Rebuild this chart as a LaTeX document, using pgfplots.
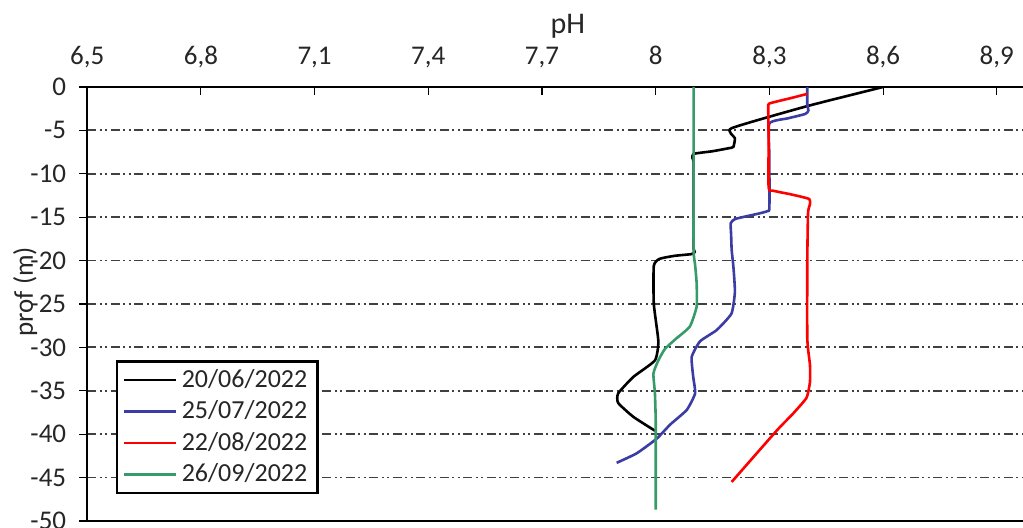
\documentclass[border=0pt]{standalone}
\usepackage{pgfplots}
\pgfplotsset{compat=1.18}
\usepackage{fontspec}
\setmainfont{Carlito}
\definecolor{cblue}{RGB}{60,60,165}
\definecolor{cred}{RGB}{255,0,0}
\definecolor{cgreen}{RGB}{55,155,105}
\newcommand{\tf}{\fontsize{13.5}{16}\selectfont}
\begin{document}
\begin{tikzpicture}
\begin{axis}[
  at={(0,0)}, anchor=south west,
  scale only axis, width=473.75pt, height=217pt,
  xmin=6.5, xmax=9.0, ymin=-50, ymax=0,
  xtick={6.5,6.8,7.1,7.4,7.7,8.0,8.3,8.6,8.9},
  ytick={-50,-45,...,0},
  xtick pos=right, xticklabel pos=right, ytick pos=left,
  tick align=outside,
  major tick length=4pt,
  tick style={black, line width=0.6pt},
  xtick style={yshift=-4pt},
  axis line style={black, line width=0.7pt},
  ymajorgrids,
  major grid style={black!75, line width=0.9pt, dash pattern=on 4.5pt off 1.75pt on 1pt off 1.75pt on 1pt off 1.75pt},
  /pgf/number format/assume math mode=true,
  xticklabel style={/pgf/number format/use comma, /pgf/number format/fixed, font=\tf, text=black!85, anchor=base, yshift=7.3pt},
  yticklabel style={font=\tf, text=black!85, xshift=-3pt},
  xlabel={pH},
  every axis x label/.style={at={(axis description cs:0.5074,1)}, anchor=base, yshift=26.5pt, font=\fontsize{15}{18}\selectfont, text=black!85},
  ylabel={prof (m)},
  every axis y label/.style={at={(axis description cs:-0.0655,0.528)}, anchor=center, rotate=90, font=\tf, text=black!85},
  legend style={at={(axis description cs:0.0304,0.0622)}, anchor=south west, draw=black, line width=1.2pt, font=\fontsize{13}{15}\selectfont, text=black!85, inner xsep=3pt, inner ysep=2pt, row sep=1.2pt},
  legend cell align=left,
  legend image code/.code={\draw[#1, line width=1.3pt] (0pt,0pt) -- (26pt,0pt);},
  every axis plot/.append style={line width=1.3pt, smooth, tension=0.3},
]
\addplot[black] coordinates {
(8.6,0) (8.40,-2.2) (8.20,-4.75) (8.209,-5.9) (8.205,-6.9) (8.192,-7.06)
(8.15,-7.4) (8.10,-7.7) (8.097,-8.2) (8.10,-8.6) (8.10,-12) (8.10,-16) (8.10,-18.6)
(8.103,-19.0) (8.095,-19.25) (8.05,-19.45) (8.01,-19.8) (7.995,-20.6)
(7.995,-25) (8.007,-29.3) (7.998,-31.5) (7.941,-33.4) (7.901,-35.3) (7.901,-36.4)
(7.941,-38) (7.998,-39.6)
};
\addlegendentry{20/06/2022}
\addplot[cblue] coordinates {
(8.4,0) (8.4,-2.0) (8.403,-2.7) (8.395,-3.1) (8.35,-3.6) (8.30,-4.2)
(8.30,-8) (8.30,-13.9) (8.295,-14.3) (8.27,-14.6) (8.21,-15.2) (8.198,-15.7)
(8.199,-17) (8.2005,-18.8) (8.205,-20.7) (8.209,-23.6) (8.2,-26.1) (8.161,-28)
(8.117,-29.3) (8.095,-31.1) (8.099,-33.4) (8.104,-35.3) (8.082,-37.2)
(8.038,-38.9) (8.003,-40.5) (7.95,-42.2) (7.897,-43.3)
};
\addlegendentry{25/07/2022}
\addplot[cred] coordinates {
(8.40,-0.8) (8.35,-1.35) (8.30,-1.9) (8.297,-2.4) (8.298,-6) (8.298,-11.6)
(8.31,-11.95) (8.36,-12.4) (8.405,-12.9) (8.407,-13.5) (8.402,-14.5)
(8.40,-20) (8.40,-29) (8.407,-32) (8.407,-34) (8.398,-35.8) (8.363,-37.6)
(8.319,-39.6) (8.2005,-45.5)
};
\addlegendentry{22/08/2022}
\addplot[cgreen] coordinates {
(8.1,0) (8.1,-10) (8.1,-18.8) (8.104,-20.5) (8.108,-22.6) (8.108,-25.3)
(8.09,-27.6) (8.051,-29.1) (8.024,-30.2) (8.007,-31.5) (7.994,-33)
(7.998,-35.3) (8.0,-38.4) (8.0,-44) (8.0,-48.7)
};
\addlegendentry{26/09/2022}
\end{axis}
\pgfresetboundingbox
\useasboundingbox (-43.6pt,-3.5pt) rectangle (467.9pt,260.5pt);
\end{tikzpicture}
\end{document}
